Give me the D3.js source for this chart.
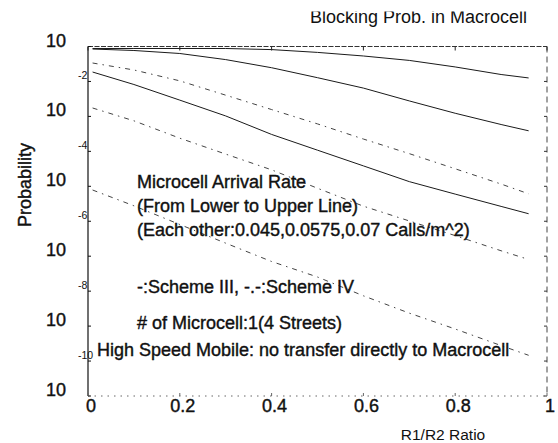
<!DOCTYPE html>
<html><head><meta charset="utf-8">
<script src="https://cdn.jsdelivr.net/npm/d3@7"></script>
<style>html,body{margin:0;padding:0;background:#fff;}svg{display:block;}text{font-family:"Liberation Sans",Arial,sans-serif;fill:#111;}
.bold{stroke:#111;stroke-width:0.4px;}</style>
</head><body>
<svg id="c" width="558" height="443"></svg>
<script>
// ---- data ----
const ratio = [0.01, 0.1, 0.2, 0.3, 0.4, 0.5, 0.6, 0.7, 0.8, 0.9, 0.96];
// Scheme III (solid)
const s3_045  = [0.186, 0.0818, 0.0292, 0.0103, 0.00305, 0.00108, 3.84e-4, 1.36e-4, 5.98e-5, 2.66e-5, 1.64e-5];
const s3_0575 = [0.847, 0.769, 0.631, 0.422, 0.247, 0.128, 0.0646, 0.0277, 0.0123, 0.00586, 0.00387];
const s3_07   = [0.877, 0.877, 0.877, 0.877, 0.815, 0.678, 0.535, 0.40, 0.26, 0.158, 0.126];
// Scheme IV (dash-dot)
const s4_045  = [7.83e-5, 2.77e-5, 8.07e-6, 2.36e-6, 7.05e-7, 2.54e-7, 7.36e-8, 2.35e-8, 8.26e-9, 2.77e-9, 1.46e-9];
const s4_0575 = [0.0174, 0.00748, 0.00238, 8.34e-4, 2.96e-4, 8.8e-5, 2.7e-5, 1.02e-5, 3.88e-6, 1.43e-6, 8.05e-7];
const s4_07   = [0.337, 0.213, 0.104, 0.0405, 0.0157, 0.0061, 0.00225, 8.6e-4, 3.17e-4, 1.16e-4, 6.1e-5];

const xTicks = [0, 0.2, 0.4, 0.6, 0.8, 1];
const xTickLabels = ["0", "0.2", "0.4", "0.6", "0.8", "1"];
const yBaseExp = [0, -2, -4, -6, -8, -10];       // where the "10" labels sit
const yExpLabels = ["-2", "-4", "-6", "-8", "-10"]; // superscripts (drawn one decade above)
const yMinorExp = [0, -1, -2, -3, -4, -5, -6, -7, -8, -9, -10];
const title = "Blocking Prob. in Macrocell";
const xLabel = "R1/R2 Ratio";
const yLabel = "Probability";
const notes = [
  "Microcell Arrival Rate",
  "(From Lower to Upper Line)",
  "(Each other:0.045,0.0575,0.07 Calls/m^2)",
  "-:Scheme III, -.-:Scheme IV",
  "# of Microcell:1(4 Streets)"
];
const note2 = "High Speed Mobile: no transfer directly to Macrocell";

// ---- chart ----
const svg = d3.select("#c");
const L = 88, R = 547, T = 46.5, B = 396;
const x = d3.scaleLinear().domain([0, 1]).range([L, R]);
const y = d3.scaleLog().domain([1e-10, 1]).range([B, T]);

// frame
svg.append("line").attr("x1", L).attr("x2", L).attr("y1", T).attr("y2", B).attr("stroke", "#111").attr("stroke-width", 1.2);
svg.append("line").attr("x1", L).attr("x2", R).attr("y1", T).attr("y2", T).attr("stroke", "#333").attr("stroke-width", 1.2).attr("stroke-dasharray", "5,1.5");
svg.append("line").attr("x1", R).attr("x2", R).attr("y1", T).attr("y2", B).attr("stroke", "#444").attr("stroke-width", 1).attr("stroke-dasharray", "6,4");
svg.append("line").attr("x1", L).attr("x2", R).attr("y1", B).attr("y2", B).attr("stroke", "#666").attr("stroke-width", 1).attr("stroke-dasharray", "1.5,5");

// ticks
const g = svg.append("g");
yMinorExp.forEach(e => {
  const yy = y(Math.pow(10, e));
  g.append("line").attr("x1", L).attr("x2", L + 3).attr("y1", yy).attr("y2", yy).attr("stroke", "#111");
  g.append("line").attr("x1", R - 3).attr("x2", R).attr("y1", yy).attr("y2", yy).attr("stroke", "#333");
});
xTicks.forEach(t => {
  g.append("line").attr("x1", x(t)).attr("x2", x(t)).attr("y1", T).attr("y2", T + 4).attr("stroke", "#222");
  g.append("line").attr("x1", x(t)).attr("x2", x(t)).attr("y1", B - 3).attr("y2", B).attr("stroke", "#666");
});

// y tick labels
yBaseExp.forEach(e => {
  svg.append("text").attr("class", "bold").attr("x", 66).attr("y", y(Math.pow(10, e))).attr("text-anchor", "end")
    .attr("font-size", 18).text("10");
});
yExpLabels.forEach((s, i) => {
  const e = yBaseExp[i + 1] + 1;
  svg.append("text").attr("x", 78).attr("y", y(Math.pow(10, e)) - 2.5).attr("text-anchor", "start")
    .attr("font-size", 10.5).text(s);
});
// x tick labels
xTicks.forEach((t, i) => {
  svg.append("text").attr("class", "bold").attr("x", x(t) + 3).attr("y", 412).attr("text-anchor", "middle")
    .attr("font-size", 18).text(xTickLabels[i]);
});

// series
const line = d3.line().x((d, i) => x(ratio[i])).y(d => y(d));
const series = [
  {v: s3_045, dash: null, c: "#1a1a1a"}, {v: s3_0575, dash: null, c: "#1a1a1a"}, {v: s3_07, dash: null, c: "#1a1a1a"},
  {v: s4_045, dash: "5,5,1.5,5", c: "#444"}, {v: s4_0575, dash: "5,5,1.5,5", c: "#444"}, {v: s4_07, dash: "5,5,1.5,5", c: "#444"}
];
series.forEach(s => {
  svg.append("path").attr("d", line(s.v)).attr("fill", "none").attr("stroke", s.c)
    .attr("stroke-width", 1).attr("stroke-dasharray", s.dash);
});

// annotations
const noteY = [188, 212, 236, 293, 329];
notes.forEach((s, i) => {
  svg.append("text").attr("class", "bold").attr("x", 137).attr("y", noteY[i]).attr("font-size", 18).text(s);
});
svg.append("text").attr("class", "bold").attr("x", 97).attr("y", 356).attr("font-size", 18).text(note2);

// title (top slightly cut off as in the reference)
svg.append("clipPath").attr("id", "tc").append("rect").attr("x", 0).attr("y", 11.5).attr("width", 558).attr("height", 40);
svg.append("text").attr("x", 310).attr("y", 23).attr("font-size", 18).attr("clip-path", "url(#tc)").text(title);

// axis labels
svg.append("text").attr("x", 443).attr("y", 440).attr("text-anchor", "middle").attr("font-size", 15.5).text(xLabel);
svg.append("text").attr("class", "bold").attr("transform", "translate(31,185) rotate(-90)").attr("text-anchor", "middle")
  .attr("font-size", 18).text(yLabel);
</script>
</body></html>
